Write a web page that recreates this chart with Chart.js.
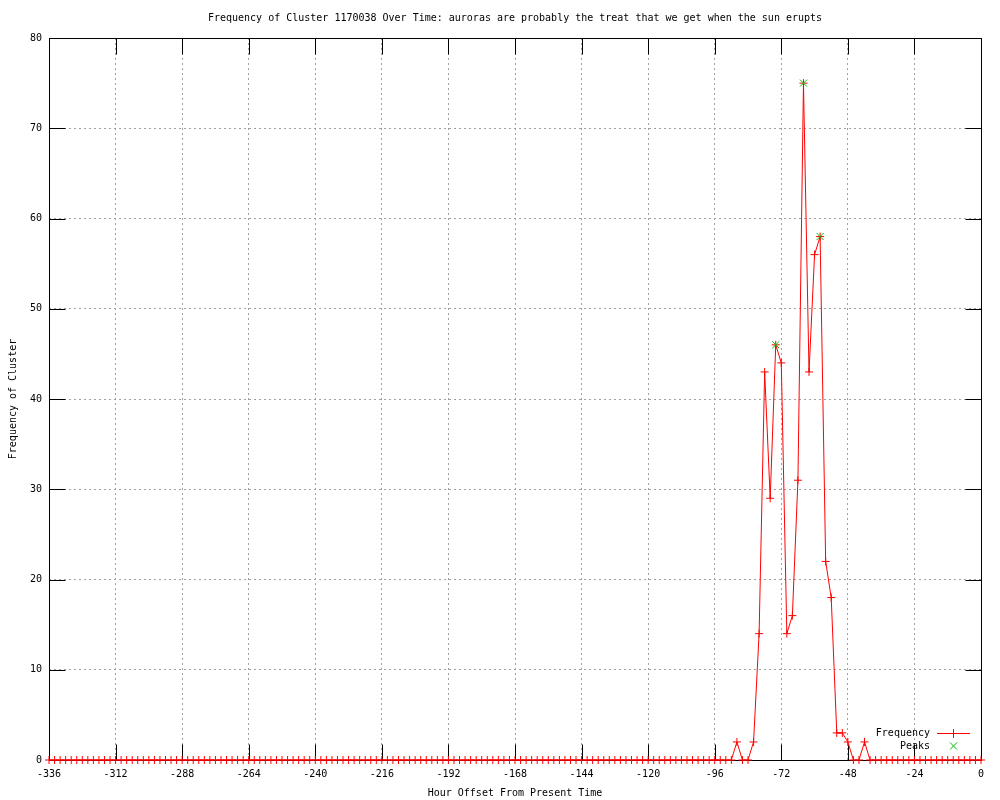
<!DOCTYPE html>
<html>
<head>
<meta charset="utf-8">
<title>Frequency of Cluster 1170038</title>
<script src="https://cdn.jsdelivr.net/npm/chart.js@4/dist/chart.umd.min.js"></script>
<style>
    html, body { margin: 0; padding: 0; background: #ffffff; }
    #chart { display: block; }
</style>
</head>
<body>
<canvas id="chart" width="1000" height="800"></canvas>
<script>
// Heures (pas de 2 h) depuis le temps présent
const hours = [
    -336, -334, -332, -330, -328, -326, -324, -322, -320, -318, -316, -314,
    -312, -310, -308, -306, -304, -302, -300, -298, -296, -294, -292, -290,
    -288, -286, -284, -282, -280, -278, -276, -274, -272, -270, -268, -266,
    -264, -262, -260, -258, -256, -254, -252, -250, -248, -246, -244, -242,
    -240, -238, -236, -234, -232, -230, -228, -226, -224, -222, -220, -218,
    -216, -214, -212, -210, -208, -206, -204, -202, -200, -198, -196, -194,
    -192, -190, -188, -186, -184, -182, -180, -178, -176, -174, -172, -170,
    -168, -166, -164, -162, -160, -158, -156, -154, -152, -150, -148, -146,
    -144, -142, -140, -138, -136, -134, -132, -130, -128, -126, -124, -122,
    -120, -118, -116, -114, -112, -110, -108, -106, -104, -102, -100, -98,
    -96, -94, -92, -90, -88, -86, -84, -82, -80, -78, -76, -74,
    -72, -70, -68, -66, -64, -62, -60, -58, -56, -54, -52, -50,
    -48, -46, -44, -42, -40, -38, -36, -34, -32, -30, -28, -26,
    -24, -22, -20, -18, -16, -14, -12, -10, -8, -6, -4, -2,
    0
];

// Fréquence du cluster pour chaque heure
const frequency = [
    0, 0, 0, 0, 0, 0, 0, 0, 0, 0, 0, 0,
    0, 0, 0, 0, 0, 0, 0, 0, 0, 0, 0, 0,
    0, 0, 0, 0, 0, 0, 0, 0, 0, 0, 0, 0,
    0, 0, 0, 0, 0, 0, 0, 0, 0, 0, 0, 0,
    0, 0, 0, 0, 0, 0, 0, 0, 0, 0, 0, 0,
    0, 0, 0, 0, 0, 0, 0, 0, 0, 0, 0, 0,
    0, 0, 0, 0, 0, 0, 0, 0, 0, 0, 0, 0,
    0, 0, 0, 0, 0, 0, 0, 0, 0, 0, 0, 0,
    0, 0, 0, 0, 0, 0, 0, 0, 0, 0, 0, 0,
    0, 0, 0, 0, 0, 0, 0, 0, 0, 0, 0, 0,
    0, 0, 0, 0, 2, 0, 0, 2, 14, 43, 29, 46,
    44, 14, 16, 31, 75, 43, 56, 58, 22, 18, 3, 3,
    2, 0, 0, 2, 0, 0, 0, 0, 0, 0, 0, 0,
    0, 0, 0, 0, 0, 0, 0, 0, 0, 0, 0, 0,
    0
];

// Pics détectés
const peakHours = [-74, -64, -58];
const peakValues = [46, 75, 58];

// Graduations des axes
const xTicks = [-336, -312, -288, -264, -240, -216, -192, -168, -144, -120, -96, -72, -48, -24, 0];
const yTicks = [0, 10, 20, 30, 40, 50, 60, 70, 80];

const chartTitle = 'Frequency of Cluster 1170038 Over Time: auroras are probably the treat that we get when the sun erupts';
const xTitle = 'Hour Offset From Present Time';
const yTitle = 'Frequency of Cluster';

const MONO = '"DejaVu Sans Mono", "Liberation Mono", monospace';

document.addEventListener('DOMContentLoaded', function() {
    const canvas = document.getElementById('chart');

    const freqPoints = hours.map((h, i) => ({ x: h, y: frequency[i] }));
    const peakPoints = peakHours.map((h, i) => ({ x: h, y: peakValues[i] }));

    // Cadre, graduations intérieures, titres et légende façon gnuplot
    const gnuplotDecor = {
        id: 'gnuplotDecor',
        beforeDatasetsDraw(chart) {
            const ctx = chart.ctx;
            const area = chart.chartArea;
            const xs = chart.scales.x;
            const ys = chart.scales.y;
            const L = Math.round(area.left) + 0.5;
            const R = Math.round(area.right) + 0.5;
            const T = Math.round(area.top) + 0.5;
            const B = Math.round(area.bottom) + 0.5;
            const tic = 16;

            ctx.save();
            ctx.strokeStyle = '#000000';
            ctx.lineWidth = 1;
            ctx.setLineDash([]);
            ctx.beginPath();
            xTicks.forEach(v => {
                const px = Math.round(xs.getPixelForValue(v)) + 0.5;
                ctx.moveTo(px, B); ctx.lineTo(px, B - tic);
                ctx.moveTo(px, T); ctx.lineTo(px, T + tic);
            });
            yTicks.forEach(v => {
                const py = Math.round(ys.getPixelForValue(v)) + 0.5;
                ctx.moveTo(L, py); ctx.lineTo(L + tic, py);
                ctx.moveTo(R, py); ctx.lineTo(R - tic, py);
            });
            ctx.stroke();
            ctx.strokeRect(L, T, R - L, B - T);
            ctx.restore();
        },
        afterDraw(chart) {
            const ctx = chart.ctx;
            const area = chart.chartArea;
            const cx = (area.left + area.right) / 2;
            const cy = (area.top + area.bottom) / 2;

            ctx.save();
            ctx.setLineDash([]);
            ctx.fillStyle = '#000000';
            ctx.textAlign = 'center';
            ctx.textBaseline = 'middle';
            ctx.font = '10px ' + MONO;

            // Titre
            ctx.fillText(chartTitle, cx, 18);

            // Titres des axes
            ctx.fillText(xTitle, cx, 793);
            ctx.save();
            ctx.translate(13, cy);
            ctx.rotate(-Math.PI / 2);
            ctx.fillText(yTitle, 0, 0);
            ctx.restore();

            // Légende
            ctx.textAlign = 'right';
            ctx.fillText('Frequency', 930, 733);
            ctx.fillText('Peaks', 930, 746);

            // Échantillon rouge : trait + croix
            ctx.fillStyle = '#ff0000';
            ctx.fillRect(937, 733, 33, 1);
            ctx.fillRect(953, 729, 1, 9);

            // Échantillon vert : croix diagonale
            ctx.strokeStyle = '#00c000';
            ctx.lineWidth = 1;
            ctx.beginPath();
            ctx.moveTo(950, 742.5); ctx.lineTo(957, 749.5);
            ctx.moveTo(957, 742.5); ctx.lineTo(950, 749.5);
            ctx.stroke();
            ctx.restore();
        }
    };

    new Chart(canvas, {
        type: 'line',
        data: {
            datasets: [
                {
                    label: 'Peaks',
                    data: peakPoints,
                    showLine: false,
                    pointStyle: 'crossRot',
                    pointRadius: 5,
                    pointBorderWidth: 1,
                    pointBorderColor: '#00c000',
                    pointBackgroundColor: '#00c000',
                    clip: false,
                    order: 0
                },
                {
                    label: 'Frequency',
                    data: freqPoints,
                    borderColor: '#ff0000',
                    borderWidth: 1,
                    tension: 0,
                    pointStyle: 'cross',
                    pointRadius: 4,
                    pointBorderWidth: 1,
                    pointBorderColor: '#ff0000',
                    clip: false,
                    order: 1
                }
            ]
        },
        options: {
            responsive: false,
            animation: false,
            events: [],
            layout: { padding: { top: 38, right: 19, left: 0, bottom: 0 } },
            plugins: {
                legend: { display: false },
                title: { display: false },
                tooltip: { enabled: false }
            },
            scales: {
                x: {
                    type: 'linear',
                    min: -336,
                    max: 0,
                    afterBuildTicks: scale => { scale.ticks = xTicks.map(v => ({ value: v })); },
                    afterFit: scale => { scale.height = 40; },
                    grid: { color: '#a0a0a0', lineWidth: 1, drawTicks: false },
                    border: { display: false, dash: [2, 3] },
                    ticks: {
                        padding: 8,
                        maxRotation: 0,
                        autoSkip: false,
                        color: '#000000',
                        font: { family: MONO, size: 10 },
                        callback: v => String(v)
                    }
                },
                y: {
                    type: 'linear',
                    min: 0,
                    max: 80,
                    afterBuildTicks: scale => { scale.ticks = yTicks.map(v => ({ value: v })); },
                    afterFit: scale => { scale.width = 49; },
                    grid: { color: '#a0a0a0', lineWidth: 1, drawTicks: false },
                    border: { display: false, dash: [2, 3] },
                    ticks: {
                        padding: 7,
                        color: '#000000',
                        font: { family: MONO, size: 10 },
                        callback: v => String(v)
                    }
                }
            }
        },
        plugins: [gnuplotDecor]
    });
});
</script>
</body>
</html>
